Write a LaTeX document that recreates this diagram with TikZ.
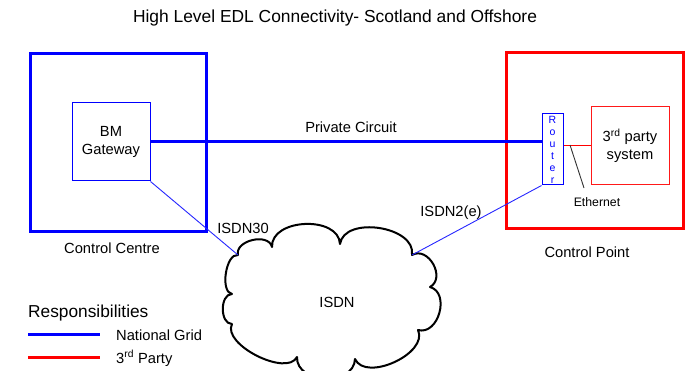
\documentclass[tikz,border=0pt]{standalone}
\usepackage{fontspec}
\setmainfont{Liberation Sans}
\begin{document}
\begin{tikzpicture}[x=1pt,y=-1pt,
  txt/.style={inner sep=0pt, anchor=base, font=\fontsize{14.7}{18}\selectfont},
  boxtxt/.style={inner sep=0pt, align=center, font=\fontsize{14.7}{18}\selectfont},
  ngframe/.style={draw=blue, line width=3pt, inner sep=0pt},
  tpframe/.style={draw=red, line width=3pt, inner sep=0pt},
  nglink/.style={draw=blue, line width=3pt},
  tplink/.style={draw=red, line width=3pt},
  isdnlink/.style={draw=blue!85!white, line width=0.9pt},
  cloudline/.style={draw=black, line width=2pt, line join=round},
  bump/.style={bend left=90, looseness=#1}
]
\useasboundingbox (0,0) rectangle (692,371);

% title
\node[txt, font=\fontsize{17.4}{20}\selectfont] (title) at (335,22.5)
  {High Level EDL Connectivity- Scotland and Offshore};

% control centre (National Grid)
\node[ngframe, minimum width=176pt, minimum height=177pt] (cc) at (118,142.5) {};
\node[boxtxt, draw=blue, line width=1pt, minimum width=78pt, minimum height=78pt]
  (gw) at (111,142) {BM\\Gateway};
\node[txt] (cclabel) at (112,253) {Control Centre};

% control point (3rd party)
\node[tpframe, minimum width=177pt, minimum height=175pt] (cp) at (594.5,140.5) {};
\node[draw=blue, line width=1pt, inner sep=0pt, minimum width=21pt, minimum height=71pt,
  align=center, text=blue, font=\fontsize{10.5}{12}\selectfont]
  (router) at (552.5,149.5) {R\\o\\u\\t\\e\\r};
\node[boxtxt, draw=red!90!white, line width=1pt, minimum width=78pt, minimum height=78pt]
  (tps) at (630,146) {3\textsuperscript{rd} party\\system};
\node[txt] (cplabel) at (587,257) {Control Point};

% private circuit
\draw[nglink] (gw.east) -- (gw.east -| router.west);
\node[txt] (pclabel) at (351,133) {Private Circuit};

% ethernet
\draw[draw=red, line width=1pt] (tps.west -| router.east) -- (tps.west);
\coordinate (ethtip) at (570,145);
\coordinate (ethend) at (584,188);
\draw[black!80, line width=0.9pt] (ethtip) -- (ethend);
\node[inner sep=0pt, anchor=base, font=\fontsize{12.3}{14}\selectfont] (ethlabel) at (597,207) {Ethernet};

% ISDN cloud
\coordinate (c1) at (238,255);
\coordinate (c2) at (272,247);
\coordinate (c3) at (340,244);
\coordinate (c4) at (412,255);
\coordinate (c5) at (430,287);
\coordinate (c6) at (418,330);
\coordinate (c7) at (355,359);
\coordinate (c8) at (297,357);
\coordinate (c9) at (232,324);
\coordinate (c10) at (232,294);
\draw[cloudline] (c1) to[bump=1.1] (c2) to[bump=1.08] (c3) to[bump=1.02] (c4)
  to[bump=1.3] (c5) to[bump=1.22] (c6) to[bump=0.95] (c7) to[bump=1.2] (c8)
  to[bump=0.8] (c9) to[bump=1.05] (c10) to[bump=0.8] (c1) -- cycle;
\node[txt] (isdn) at (337,307) {ISDN};

% ISDN access lines
\draw[isdnlink] (gw.south east) -- (c1);
\draw[isdnlink] (router.south west) -- (c4);
\node[txt] (isdn30) at (243,233) {ISDN30};
\node[txt] (isdn2e) at (451,216) {ISDN2(e)};

% legend
\node[inner sep=0pt, anchor=base west, font=\fontsize{17.3}{20}\selectfont] (legtitle) at (28,317) {Responsibilities};
\coordinate (ngA) at (28,334);
\coordinate (ngB) at (100,334);
\coordinate (tpA) at (28,357);
\coordinate (tpB) at (100,357);
\draw[nglink] (ngA) -- (ngB);
\draw[tplink] (tpA) -- (tpB);
\node[txt, anchor=base west] (ngtext) at (116,340) {National Grid};
\node[txt, anchor=base west] (tptext) at (116,363) {3\textsuperscript{rd} Party};
\end{tikzpicture}
\end{document}
